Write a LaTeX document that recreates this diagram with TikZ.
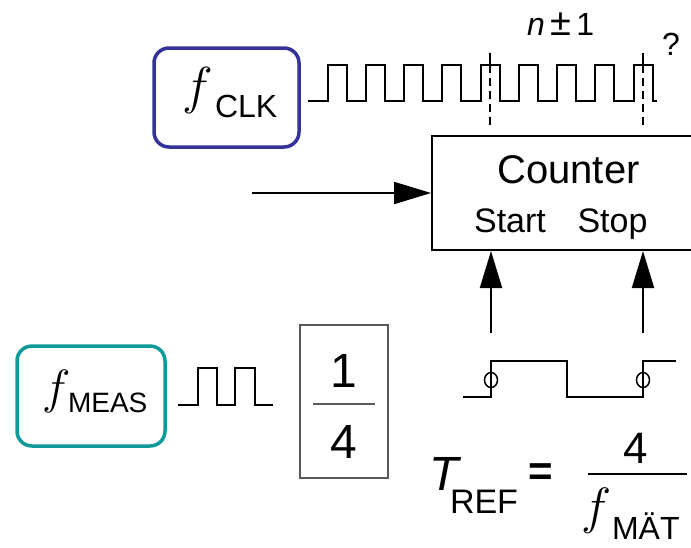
\RequirePackage{fix-cm}
\documentclass[tikz,border=0pt]{standalone}
\usepackage{fontspec}
\setmainfont{Liberation Sans}
\usetikzlibrary{arrows.meta,shapes.geometric}
\definecolor{clkblue}{RGB}{51,51,153}
\definecolor{measteal}{RGB}{16,155,155}
\definecolor{fracgray}{RGB}{90,90,90}
\newcommand{\fs}[1]{\fontsize{#1}{#1}\selectfont}
\begin{document}
\begin{tikzpicture}[x=1pt,y=-1pt,
  txt/.style={inner sep=0pt,outer sep=0pt},
  wave/.style={line width=2pt,line join=miter},
  sigbox/.style={line width=3.5pt,rounded corners=15pt,inner sep=0pt,minimum width=145pt,minimum height=99pt},
  ctrbox/.style={draw,line width=2pt,inner sep=0pt,minimum width=270pt,minimum height=114pt},
  bigarrow/.style={line width=2pt,-{Triangle[length=37pt,width=22pt]}},
  marker/.style={line width=1.5pt,dash pattern=on 8pt off 5pt},
  edgemark/.style={draw,ellipse,line width=1.5pt,minimum width=13pt,minimum height=15pt,inner sep=0pt}]
\useasboundingbox (0,0) rectangle (691,547);

% f_CLK box and label
\node[sigbox,draw=clkblue] (clk) at (226.5,97.5) {};
\node[txt,anchor=base west] (clkf) at (182,103) {\fs{52}$f$};
\node[txt,anchor=base west] (clks) at (215,117) {\fs{32}CLK};

% clock waveform
\draw[wave] (308,101)
  \foreach \k in {0,...,8} {
    -- ({327.6+38.25*\k},101) -- ({327.6+38.25*\k},65)
    -- ({346.6+38.25*\k},65) -- ({346.6+38.25*\k},101)
  } -- (657,101);

% markers n +- 1
\coordinate (m1t) at (490,53);
\coordinate (m1b) at (490,126);
\coordinate (m2t) at (643,53);
\coordinate (m2b) at (643,126);
\draw[line width=1.5pt] (m1t) -- ++(0,12);
\draw[line width=1.5pt] (m2t) -- ++(0,12);
\draw[marker] (490,65) -- (m1b);
\draw[marker] (643,65) -- (m2b);
\node[txt,anchor=base west] (npm) at (527,35) {\fs{32}\textit{n}\,{\fs{38}±}\,1};
\node[txt,anchor=base west] (q) at (662,55) {\fs{32}?};

% counter
\node[ctrbox] (ctr) at (567,193) {};
\node[txt,anchor=base] (ctrl) at (568.5,183) {\fs{40}Counter};
\node[txt,anchor=base] (startl) at (510,232) {\fs{34}Start};
\node[txt,anchor=base] (stopl) at (612.5,232) {\fs{34}Stop};

% input arrow
\coordinate (inp) at (252,193);
\draw[bigarrow] (inp) -- (ctr.west);

% start / stop arrows
\coordinate (sa) at (491,333);
\coordinate (sb) at (643,333);
\draw[bigarrow] (sa) -- (sa |- ctr.south);
\draw[bigarrow] (sb) -- (sb |- ctr.south);

% lower reference waveform
\draw[wave] (463,397) -- (491,397) -- (491,361) -- (567,361) -- (567,397)
  -- (643,397) -- (643,361) -- (676,361);
\node[edgemark] (c1) at (491,380) {};
\node[edgemark] (c2) at (643,380) {};

% f_MEAS box and label
\node[sigbox,draw=measteal,minimum width=148pt,minimum height=100pt] (meas) at (91,396) {};
\node[txt,anchor=base west] (measf) at (42,403) {\fs{48}$f$};
\node[txt,anchor=base west] (meass) at (68,412) {\fs{28}MEAS};
\draw[wave] (178,405) -- (198,405) -- (198,368) -- (217,368) -- (217,405)
  -- (235,405) -- (235,368) -- (255,368) -- (255,405) -- (273,405);

% divider 1/4
\node[draw=fracgray,line width=1.3pt,minimum width=88pt,minimum height=153pt,inner sep=0pt] (div) at (344,401.5) {};
\node[txt,anchor=base] (one) at (344,387) {\fs{48}1};
\node[txt,anchor=base] (four) at (344,458) {\fs{48}4};
\draw[fracgray,line width=2pt] (313,404) -- (375,404);

% T_REF = 4 / f_MAT
\node[txt,anchor=base west] (T) at (429,490) {\fs{48}\textit{T}};
\node[txt,anchor=base west] (Ts) at (450,513) {\fs{34}REF};
\node[txt] (eq) at (541,474.5) {\fs{42}\bfseries =};
\node[txt,anchor=base] (num) at (635.5,463) {\fs{44}4};
\draw[line width=2pt] (588,474) -- (687,474);
\node[txt,anchor=base west] (denf) at (581,523) {\fs{51}$f$};
\node[txt,anchor=base west] (dens) at (612,539) {\fs{32}MÄT};
\end{tikzpicture}
\end{document}
